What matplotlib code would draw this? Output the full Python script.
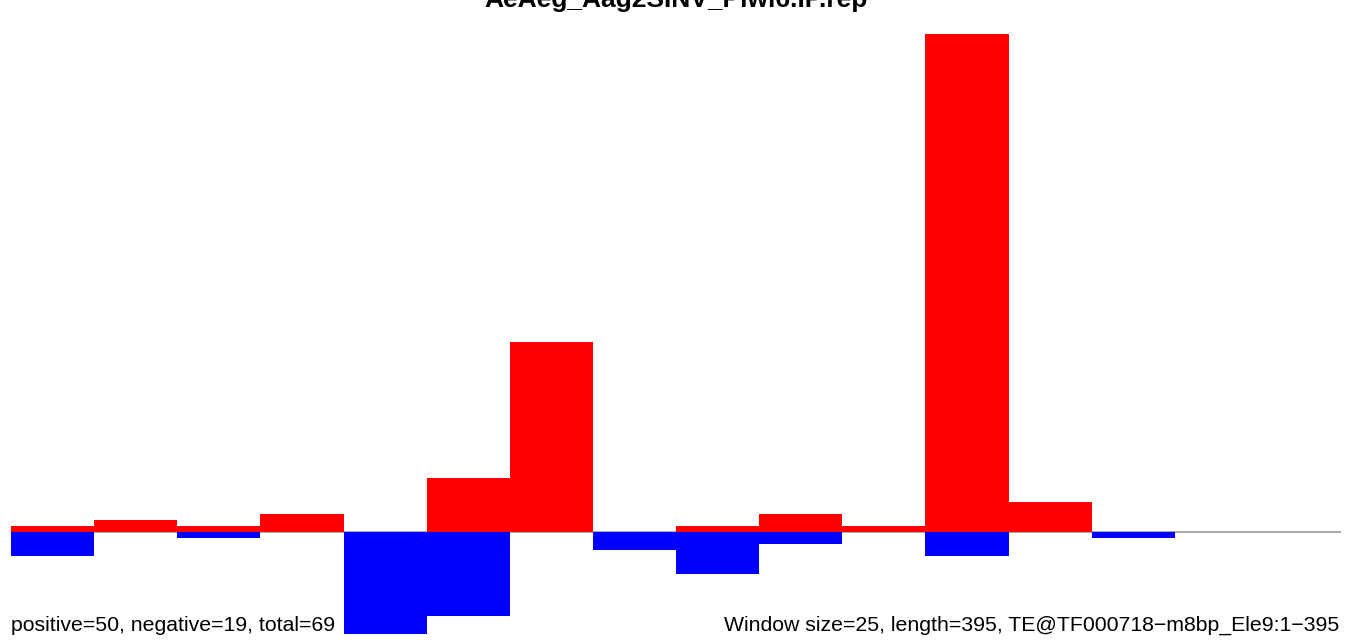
import matplotlib.pyplot as plt
import numpy as np

plt.rcParams['font.family'] = ['Liberation Sans', 'DejaVu Sans']

window = 25
length = 395
starts = np.arange(0, 400, window)

# per-window signal, sense strand (up) and antisense strand (down)
pos_vals = [1, 2, 1, 3, 0, 9, 31.7, 0, 1, 3, 1, 83, 5, 0, 0, 0]
neg_vals = [4, 0, 1, 0, 17, 14, 0, 3, 7, 2, 0, 4, 0, 1, 0, 0]

title = 'AeAeg_Aag2SINV_Piwi6.IP.rep'
left_note = 'positive=50, negative=19, total=69'
right_note = 'Window size=25, length=395, TE@TF000718\u2212m8bp_Ele9:1\u2212395'

W, H = 1352, 644
fig = plt.figure(figsize=(W / 100, H / 100), dpi=100)
ax = fig.add_axes([0, 0, 1, 1])

ax.hlines(0, 0, 400, color='#999999', lw=1.2, zorder=0)
ax.bar(starts, pos_vals, width=window, align='edge', color='#ff0000', lw=0, zorder=2)
ax.bar(starts, [-v for v in neg_vals], width=window, align='edge', color='#0000ff', lw=0, zorder=2)

# map data to pixel layout of the reference
xpx = (1341 - 11) / 400
ax.set_xlim(-11 / xpx, 400 + 11 / xpx)
ypx = 6.0
base = 532
ax.set_ylim(-(H - base) / ypx, base / ypx)
ax.axis('off')

fig.text(676 / W, 1 - 7 / H, title, ha='center', va='baseline',
         fontsize=19, fontweight='bold')
fig.text(11 / W, 1 - 631 / H, left_note, ha='left', va='baseline', fontsize=15.3)
fig.text(1339 / W, 1 - 631 / H, right_note, ha='right', va='baseline', fontsize=15.3)

fig.savefig('out.png', dpi=100)
